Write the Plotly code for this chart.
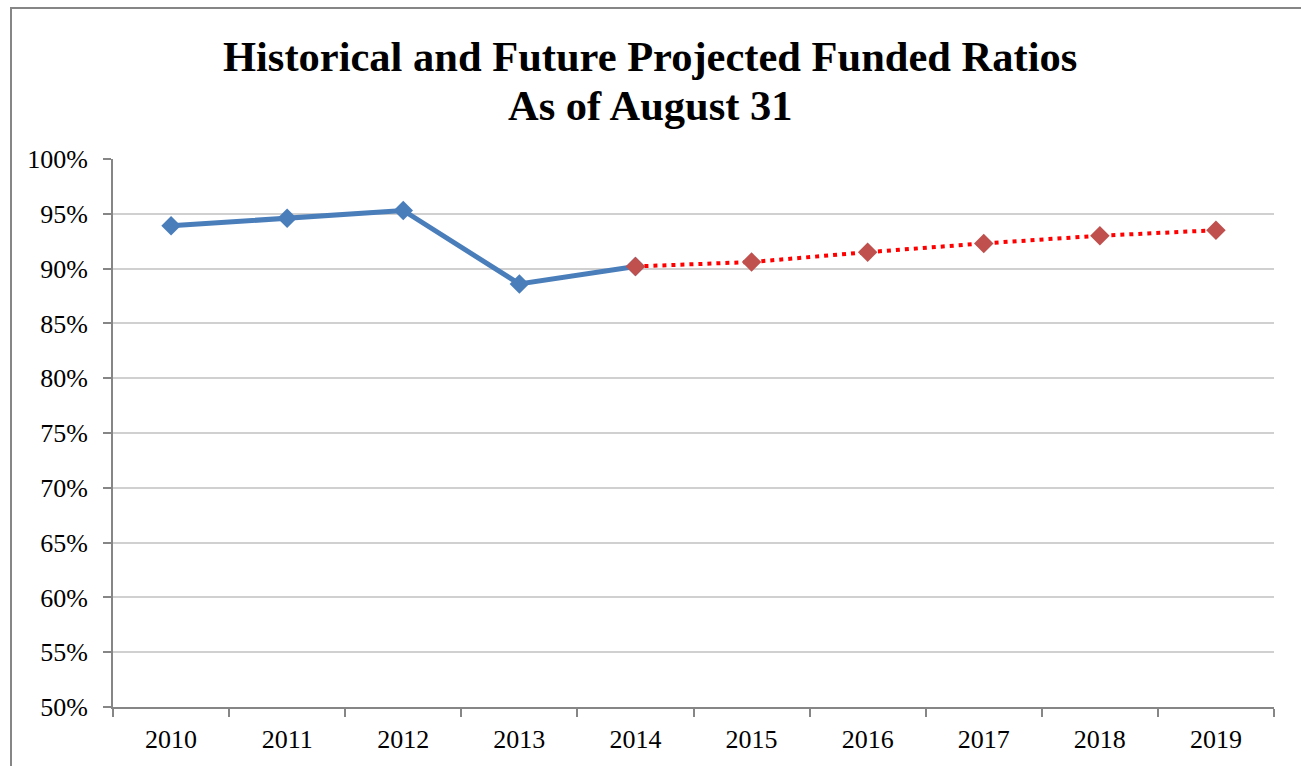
import plotly.graph_objects as go

years = ["2010", "2011", "2012", "2013", "2014", "2015", "2016", "2017", "2018", "2019"]
historical_years = ["2010", "2011", "2012", "2013", "2014"]
historical_values = [0.939, 0.946, 0.953, 0.886, 0.902]
projected_years = ["2014", "2015", "2016", "2017", "2018", "2019"]
projected_values = [0.902, 0.906, 0.915, 0.923, 0.930, 0.935]
y_ticks = [0.50, 0.55, 0.60, 0.65, 0.70, 0.75, 0.80, 0.85, 0.90, 0.95, 1.00]
title_lines = ["Historical and Future Projected Funded Ratios", "As of August 31"]

FONT = "Times New Roman, Liberation Serif, serif"
W, H = 1301, 766
L, R, T, B = 113, 27, 159, 59
pw, ph = W - L - R, H - T - B


def py(pix):
    """pixel row -> paper y"""
    return (H - B - pix) / ph


def px(pix):
    """pixel column -> paper x"""
    return (pix - L) / pw


fig = go.Figure()
fig.add_trace(go.Scatter(
    x=historical_years, y=historical_values, mode="lines+markers",
    line=dict(color="#4a7ebb", width=5),
    marker=dict(symbol="diamond", size=15, color="#4a7ebb"),
    showlegend=False, hoverinfo="x+y"))
fig.add_trace(go.Scatter(
    x=projected_years, y=projected_values, mode="lines+markers",
    line=dict(color="#ff0000", width=4, dash="4px,5px"),
    marker=dict(symbol="diamond", size=15, color="#c0504d"),
    showlegend=False, hoverinfo="x+y"))

fig.update_layout(
    width=W, height=H,
    margin=dict(l=L, r=R, t=T, b=B),
    paper_bgcolor="white", plot_bgcolor="white",
    font=dict(family=FONT, color="black", size=26),
    xaxis=dict(
        type="category", categoryorder="array", categoryarray=years,
        tickson="boundaries", ticks="outside", ticklen=8, tickwidth=2,
        tickcolor="#868686", showline=True, linecolor="#868686", linewidth=2,
        showgrid=False, range=[-0.5, 9.5], tickfont=dict(size=26),
        ticklabelstandoff=8, fixedrange=True, automargin=False),
    yaxis=dict(
        range=[0.50, 1.00], tickvals=y_ticks, tickformat=".0%",
        ticks="outside", ticklen=8, tickwidth=2, tickcolor="#868686",
        showline=True, linecolor="#868686", linewidth=2,
        showgrid=True, gridcolor="#d0d0d0", gridwidth=1.5,
        zeroline=False, tickfont=dict(size=26), ticklabelstandoff=10,
        fixedrange=True, automargin=False),
)

for text, center in zip(title_lines, [57, 106]):
    fig.add_annotation(text="<b>" + text + "</b>", xref="paper", yref="paper",
                       x=px(650), y=py(center), xanchor="center", yanchor="middle",
                       showarrow=False, font=dict(family=FONT, size=42.5, color="black"))

# outer chart border (extends past right/bottom edges like the source crop)
fig.add_shape(type="rect", xref="paper", yref="paper",
              x0=px(11), x1=px(W + 20), y0=py(H + 20), y1=py(8),
              line=dict(color="#868686", width=2), layer="below")

fig.write_html("out.html", config={"displayModeBar": False},
               post_script="document.body.style.margin='0';document.body.style.overflow='hidden';")
